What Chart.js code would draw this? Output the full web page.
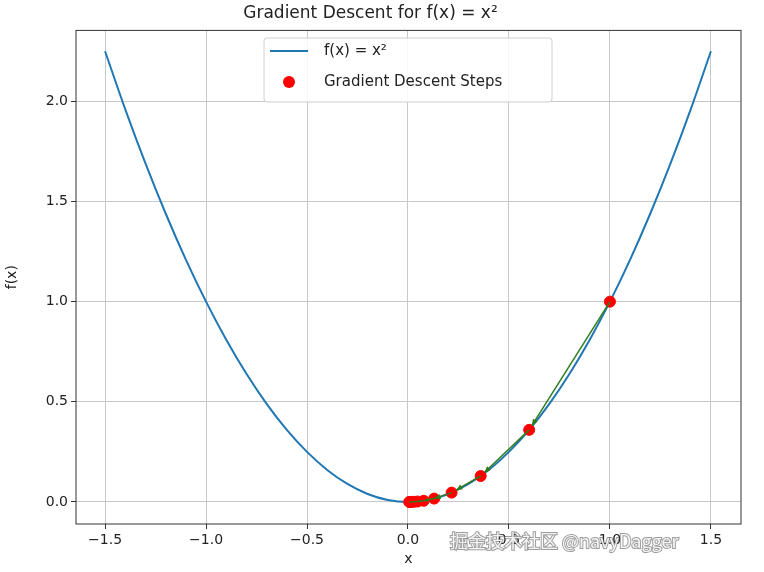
<!DOCTYPE html>
<html><head><meta charset="utf-8">
<script src="https://cdn.jsdelivr.net/npm/chart.js@4"></script>
<style>html,body{margin:0;background:#fff}#w{width:764px;height:572px}</style>
</head><body><div id="w"><canvas id="c"></canvas></div>
<script>
const curveX=[-1.5,-1.4,-1.3,-1.2,-1.1,-1.0,-0.9,-0.8,-0.7,-0.6,-0.5,-0.4,-0.3,-0.2,-0.1,0,0.1,0.2,0.3,0.4,0.5,0.6,0.7,0.8,0.9,1.0,1.1,1.2,1.3,1.4,1.5];
const curveY=[2.25,1.96,1.69,1.44,1.21,1.0,0.81,0.64,0.49,0.36,0.25,0.16,0.09,0.04,0.01,0,0.01,0.04,0.09,0.16,0.25,0.36,0.49,0.64,0.81,1.0,1.21,1.44,1.69,1.96,2.25];
const stepX=[1.0,0.6,0.36,0.216,0.1296,0.0778,0.0467,0.028,0.0168,0.0101,0.006];
const stepY=[1.0,0.36,0.1296,0.0467,0.0168,0.006,0.0022,0.0008,0.0003,0.0001,0.00004];
const xTicks=[-1.5,-1.0,-0.5,0.0,0.5,1.0,1.5];
const yTicks=[0.0,0.5,1.0,1.5,2.0];
const F='"DejaVu Sans"';
const fmt=v=>(v<0?'\u2212':'')+Math.abs(v).toFixed(1);
const arrows={id:'arrows',afterDatasetsDraw(ch){
 const c=ch.ctx,xs=ch.scales.x,ys=ch.scales.y;
 c.save();c.strokeStyle='#2e7d1e';c.fillStyle='#2e7d1e';c.lineWidth=1.5;
 for(let i=0;i<stepX.length-1;i++){
  const x1=xs.getPixelForValue(stepX[i]),y1=ys.getPixelForValue(stepY[i]);
  let x2=xs.getPixelForValue(stepX[i+1]),y2=ys.getPixelForValue(stepY[i+1]);
  const a=Math.atan2(y2-y1,x2-x1),L=Math.hypot(x2-x1,y2-y1),h=Math.min(7,L*0.5);
  if(L>20){x2-=5*Math.cos(a);y2-=5*Math.sin(a);}
  c.beginPath();c.moveTo(x1,y1);c.lineTo(x2,y2);c.stroke();
  c.beginPath();c.moveTo(x2,y2);c.lineTo(x2-h*Math.cos(a-0.4),y2-h*Math.sin(a-0.4));c.lineTo(x2-h*Math.cos(a+0.4),y2-h*Math.sin(a+0.4));c.closePath();c.fill();
 }
 const lx=264,ly=38,lw=288,lh=64;
 c.fillStyle='rgba(255,255,255,0.85)';c.strokeStyle='#d0d0d0';c.lineWidth=1;
 c.beginPath();c.roundRect(lx,ly,lw,lh,3);c.fill();c.stroke();
 c.strokeStyle='#1f77b4';c.lineWidth=2;c.beginPath();c.moveTo(270,51);c.lineTo(308,51);c.stroke();
 c.fillStyle='red';c.beginPath();c.arc(289,82,6,0,Math.PI*2);c.fill();
 c.fillStyle='#222';c.font='15px '+F;c.textBaseline='middle';
 c.fillText('f(x) = x²',324,51);c.fillText('Gradient Descent Steps',324,82);
 const ar=ch.chartArea;c.strokeStyle='#333';c.lineWidth=1;c.strokeRect(ar.left,ar.top,ar.right-ar.left,ar.bottom-ar.top);
 c.font='18px "Noto Sans CJK SC"';c.fillStyle='rgba(255,255,255,0.9)';c.strokeStyle='rgba(90,90,90,0.6)';c.lineWidth=2;
 c.strokeText('掘金技术社区 @navyDagger',450,541);c.fillText('掘金技术社区 @navyDagger',450,541);
 c.restore();
}};
new Chart(document.getElementById('c'),{
 type:'scatter',
 data:{datasets:[
  {type:'line',data:curveX.map((x,i)=>({x,y:curveY[i]})),borderColor:'#1f77b4',borderWidth:2,pointRadius:0,tension:0.4,cubicInterpolationMode:'monotone',order:2},
  {data:stepX.map((x,i)=>({x,y:stepY[i]})),backgroundColor:'red',borderColor:'red',pointRadius:5.5,order:1}
 ]},
 plugins:[arrows],
 options:{responsive:true,maintainAspectRatio:false,animation:false,
  layout:{padding:{top:3,right:23,bottom:0,left:0}},
  plugins:{legend:{display:false},tooltip:{enabled:false},
   title:{display:true,text:'Gradient Descent for f(x) = x²',font:{family:F,size:17,weight:'normal'},color:'#222',padding:{top:0,bottom:7}}},
  scales:{
   x:{type:'linear',min:-1.644,max:1.649,afterBuildTicks(s){s.ticks=xTicks.map(v=>({value:v}))},
      afterFit(s){s.height=48},
      grid:{color:'#c8c8c8',drawTicks:true,tickLength:5,tickColor:'#333'},border:{display:false},
      ticks:{color:'#222',font:{family:F,size:14},callback:fmt},
      title:{display:true,text:'x',font:{family:F,size:14},color:'#222',padding:{top:0}}},
   y:{type:'linear',min:-0.11,max:2.354,afterBuildTicks(s){s.ticks=yTicks.map(v=>({value:v}))},
      afterFit(s){s.width=76},
      grid:{color:'#c8c8c8',tickLength:5,tickColor:'#333'},border:{display:false},
      ticks:{color:'#222',font:{family:F,size:14},callback:fmt},
      title:{display:true,text:'f(x)',font:{family:F,size:14},color:'#222',padding:{bottom:2}}}
  }}
});
</script></body></html>
